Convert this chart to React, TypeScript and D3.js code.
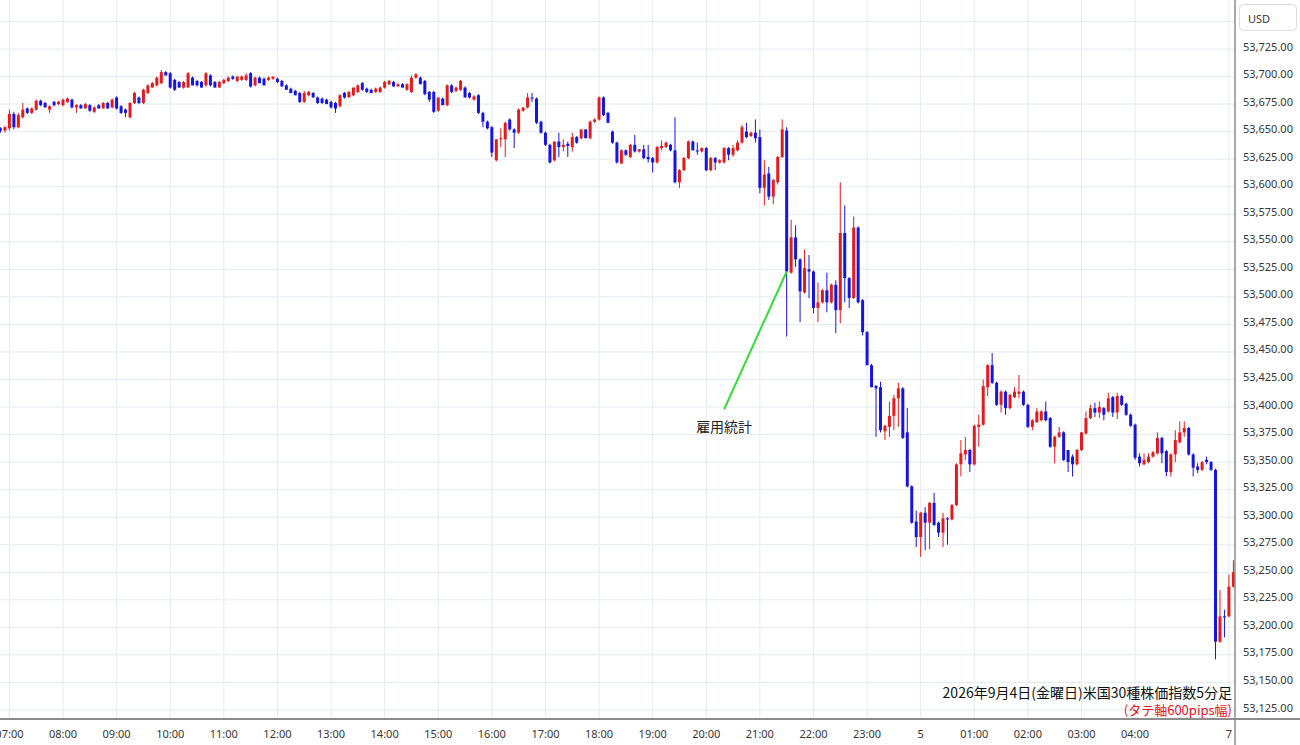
import React from "react";
import * as d3 from "d3";

// slot index of the first candle (0 = 07:00, one slot = 5 minutes)
const firstSlot = -2;

const opens = [
  53653, 53651,
  53653, 53666, 53654, 53663, 53671, 53667, 53670, 53678, 53676, 53670,
  53677, 53675, 53674, 53677, 53679, 53672, 53674, 53671, 53674, 53668,
  53674, 53671, 53676, 53672, 53681, 53673, 53670, 53663, 53676, 53681,
  53676, 53685, 53690, 53692, 53694, 53704, 53703, 53697, 53695, 53690,
  53690, 53699, 53696, 53695, 53692, 53701, 53695, 53690, 53694, 53696,
  53700, 53696, 53697, 53697,
  53703, 53692, 53699, 53698, 53697, 53698, 53698, 53696, 53692, 53689,
  53687, 53685, 53677, 53683, 53685, 53681, 53680, 53679, 53677, 53676,
  53673, 53685, 53681, 53683, 53686, 53694, 53689, 53688, 53686, 53686,
  53690, 53693, 53695, 53691, 53693, 53688, 53686, 53699, 53699, 53696,
  53686, 53686, 53669, 53680, 53674, 53692, 53687, 53688, 53690, 53685,
  53679, 53683, 53667, 53659, 53654, 53624,
  53643, 53643, 53661, 53652, 53649, 53669, 53672, 53681, 53680, 53659,
  53649, 53638, 53624, 53641, 53636, 53639, 53636, 53645, 53644, 53652,
  53644, 53659, 53661, 53681, 53667, 53650, 53640, 53621, 53633, 53627,
  53638, 53632, 53634, 53627, 53626, 53622, 53635, 53636, 53638, 53633,
  53604, 53615, 53626, 53641, 53633, 53632, 53635, 53615, 53626, 53622,
  53622, 53635, 53629, 53633, 53640, 53650, 53646, 53649, 53645, 53599,
  53612, 53591, 53604, 53627, 53651, 53522, 53554, 53534, 53504, 53525,
  53523, 53490, 53495, 53506, 53495, 53511, 53488, 53558, 53517, 53499,
  53563, 53497, 53468, 53438, 53419, 53418, 53378, 53382, 53392, 53408,
  53417, 53377, 53328, 53296, 53282, 53304, 53295, 53313, 53295, 53286,
  53299, 53298, 53311, 53348, 53357, 53361, 53348, 53382, 53384, 53418,
  53438, 53422, 53402, 53414, 53399, 53409, 53412, 53414, 53402, 53382,
  53386, 53388, 53396, 53390, 53364, 53373, 53377, 53361, 53355, 53348,
  53361, 53376, 53390, 53399, 53395, 53399, 53396, 53409, 53395, 53410,
  53403, 53393, 53384, 53355, 53348, 53350, 53355, 53358, 53372, 53360,
  53341, 53357, 53368, 53377, 53381, 53357, 53346, 53343, 53352, 53350,
  53343, 53187, 53210, 53210, 53237,
];

const highs = [
  53654, 53655,
  53670, 53668, 53667, 53676, 53672, 53672, 53679, 53679, 53677, 53674,
  53678, 53678, 53680, 53681, 53680, 53675, 53675, 53676, 53675, 53673,
  53675, 53677, 53677, 53680, 53682, 53674, 53671, 53677, 53686, 53682,
  53689, 53693, 53695, 53700, 53706, 53705, 53704, 53698, 53696, 53696,
  53704, 53700, 53697, 53696, 53704, 53702, 53696, 53696, 53698, 53700,
  53701, 53700, 53701, 53703,
  53704, 53700, 53700, 53699, 53700, 53700, 53699, 53697, 53693, 53690,
  53688, 53686, 53687, 53687, 53686, 53682, 53681, 53680, 53678, 53677,
  53684, 53686, 53687, 53690, 53693, 53695, 53690, 53689, 53690, 53691,
  53696, 53697, 53696, 53694, 53694, 53694, 53701, 53703, 53700, 53697,
  53687, 53687, 53681, 53681, 53693, 53693, 53691, 53697, 53691, 53686,
  53683, 53684, 53668, 53660, 53655, 53643,
  53653, 53659, 53662, 53653, 53671, 53672, 53685, 53685, 53681, 53660,
  53650, 53639, 53641, 53649, 53643, 53641, 53649, 53646, 53652, 53652,
  53660, 53662, 53682, 53682, 53668, 53651, 53641, 53634, 53634, 53639,
  53647, 53634, 53638, 53638, 53627, 53637, 53642, 53641, 53639, 53663,
  53616, 53627, 53642, 53642, 53640, 53636, 53636, 53627, 53627, 53625,
  53636, 53636, 53638, 53642, 53656, 53658, 53650, 53661, 53652, 53624,
  53618, 53607, 53628, 53661, 53654, 53570, 53565, 53535, 53543, 53538,
  53524, 53513, 53507, 53522, 53512, 53515, 53604, 53583, 53518, 53573,
  53564, 53498, 53469, 53439, 53420, 53423, 53384, 53405, 53411, 53422,
  53418, 53399, 53329, 53306, 53305, 53309, 53314, 53322, 53296, 53304,
  53300, 53312, 53349, 53370, 53373, 53362, 53384, 53393, 53425, 53439,
  53449, 53423, 53415, 53415, 53412, 53418, 53429, 53415, 53403, 53389,
  53399, 53397, 53405, 53391, 53374, 53382, 53378, 53361, 53357, 53362,
  53377, 53396, 53402, 53404, 53405, 53400, 53413, 53410, 53413, 53411,
  53404, 53394, 53385, 53358, 53358, 53358, 53360, 53377, 53373, 53361,
  53358, 53379, 53387, 53387, 53382, 53358, 53349, 53351, 53355, 53351,
  53344, 53234, 53216, 53248, 53261,
];

const lows = [
  53649, 53649,
  53651, 53652, 53653, 53662, 53666, 53666, 53669, 53673, 53672, 53667,
  53673, 53674, 53673, 53676, 53671, 53667, 53671, 53671, 53668, 53667,
  53671, 53671, 53671, 53671, 53670, 53666, 53663, 53662, 53675, 53675,
  53675, 53684, 53690, 53691, 53693, 53701, 53689, 53687, 53690, 53689,
  53690, 53692, 53691, 53690, 53691, 53691, 53690, 53690, 53693, 53695,
  53697, 53695, 53696, 53696,
  53690, 53691, 53694, 53692, 53696, 53697, 53694, 53691, 53688, 53685,
  53683, 53676, 53676, 53682, 53681, 53675, 53675, 53675, 53671, 53667,
  53672, 53680, 53681, 53682, 53685, 53687, 53685, 53685, 53685, 53685,
  53689, 53692, 53691, 53691, 53690, 53687, 53685, 53698, 53693, 53683,
  53677, 53667, 53668, 53674, 53673, 53685, 53686, 53687, 53681, 53680,
  53678, 53666, 53654, 53652, 53627, 53623,
  53636, 53627, 53651, 53635, 53648, 53668, 53671, 53677, 53657, 53648,
  53637, 53621, 53623, 53627, 53632, 53627, 53632, 53639, 53643, 53644,
  53643, 53658, 53660, 53664, 53658, 53639, 53621, 53621, 53628, 53626,
  53631, 53631, 53625, 53622, 53613, 53621, 53633, 53635, 53632, 53603,
  53599, 53614, 53625, 53633, 53629, 53631, 53614, 53614, 53615, 53621,
  53621, 53624, 53627, 53632, 53639, 53644, 53645, 53640, 53594, 53583,
  53588, 53584, 53602, 53626, 53464, 53521, 53527, 53477, 53503, 53499,
  53485, 53477, 53494, 53486, 53494, 53467, 53476, 53495, 53490, 53498,
  53494, 53465, 53438, 53418, 53373, 53377, 53370, 53373, 53379, 53382,
  53371, 53327, 53294, 53273, 53264, 53270, 53271, 53292, 53282, 53273,
  53275, 53297, 53310, 53337, 53352, 53341, 53347, 53364, 53383, 53410,
  53421, 53401, 53395, 53393, 53398, 53408, 53408, 53401, 53381, 53379,
  53386, 53387, 53387, 53363, 53349, 53372, 53351, 53341, 53337, 53347,
  53360, 53375, 53389, 53391, 53390, 53388, 53395, 53391, 53389, 53401,
  53392, 53382, 53352, 53346, 53347, 53349, 53354, 53357, 53349, 53337,
  53337, 53350, 53367, 53373, 53356, 53337, 53340, 53342, 53348, 53342,
  53171, 53186, 53191, 53209, 53236,
];

const closes = [
  53651, 53654,
  53666, 53654, 53665, 53670, 53667, 53671, 53678, 53674, 53672, 53673,
  53674, 53677, 53679, 53680, 53672, 53674, 53671, 53675, 53669, 53672,
  53671, 53676, 53671, 53679, 53671, 53667, 53667, 53676, 53685, 53676,
  53688, 53692, 53694, 53699, 53704, 53701, 53690, 53688, 53690, 53695,
  53703, 53692, 53692, 53690, 53703, 53692, 53690, 53695, 53697, 53699,
  53698, 53700, 53700, 53701,
  53691, 53699, 53694, 53692, 53699, 53700, 53695, 53691, 53688, 53685,
  53683, 53677, 53685, 53686, 53681, 53676, 53676, 53675, 53672, 53671,
  53683, 53681, 53686, 53690, 53692, 53688, 53686, 53685, 53689, 53690,
  53695, 53696, 53691, 53693, 53690, 53693, 53699, 53702, 53693, 53684,
  53679, 53668, 53681, 53674, 53692, 53686, 53690, 53696, 53681, 53681,
  53682, 53667, 53659, 53653, 53631, 53643,
  53644, 53658, 53652, 53649, 53670, 53672, 53681, 53680, 53658, 53649,
  53638, 53622, 53641, 53636, 53638, 53637, 53645, 53640, 53652, 53644,
  53659, 53661, 53681, 53665, 53658, 53640, 53622, 53633, 53629, 53638,
  53632, 53634, 53626, 53625, 53622, 53636, 53637, 53640, 53633, 53604,
  53615, 53626, 53641, 53633, 53632, 53635, 53615, 53626, 53622, 53624,
  53635, 53629, 53635, 53640, 53654, 53645, 53649, 53644, 53599, 53611,
  53591, 53606, 53627, 53652, 53523, 53554, 53534, 53505, 53526, 53523,
  53490, 53495, 53506, 53495, 53511, 53488, 53558, 53517, 53499, 53563,
  53495, 53468, 53438, 53418, 53417, 53379, 53383, 53392, 53408, 53417,
  53372, 53328, 53295, 53282, 53304, 53295, 53313, 53293, 53286, 53299,
  53298, 53311, 53348, 53358, 53361, 53348, 53383, 53384, 53419, 53438,
  53422, 53402, 53414, 53399, 53411, 53414, 53414, 53402, 53382, 53388,
  53396, 53396, 53388, 53364, 53373, 53377, 53352, 53350, 53348, 53361,
  53377, 53390, 53399, 53395, 53400, 53393, 53408, 53395, 53410, 53402,
  53393, 53383, 53354, 53349, 53352, 53355, 53359, 53372, 53358, 53341,
  53357, 53370, 53377, 53381, 53357, 53345, 53343, 53350, 53350, 53343,
  53187, 53210, 53209, 53237, 53250,
];

const xTickSlots = [0, 12, 24, 36, 48, 60, 72, 84, 96, 108, 120, 132, 144, 156, 168, 180, 192, 204, 216, 228, 240, 252, 273];
const xTickLabels = ["07:00", "08:00", "09:00", "10:00", "11:00", "12:00", "13:00", "14:00", "15:00", "16:00", "17:00", "18:00", "19:00", "20:00", "21:00", "22:00", "23:00", "5", "01:00", "02:00", "03:00", "04:00", "7"];

const yTickValues = [53125, 53150, 53175, 53200, 53225, 53250, 53275, 53300, 53325, 53350, 53375, 53400, 53425, 53450, 53475, 53500, 53525, 53550, 53575, 53600, 53625, 53650, 53675, 53700, 53725];
const yGridExtra = [53750];

const annotationSlot = 174;
const annotationPrice = 53523;
const annotationEndSlot = 160;
const annotationEndPrice = 53398;
const annotationLabelPrice = 53383;
const annotationText = "雇用統計";

const titleLine1 = "2026年9月4日(金曜日)米国30種株価指数5分足";
const titleLine2 = "(タテ軸600pips幅)";
const currencyLabel = "USD";

const W = 1300;
const H = 745;
const PLOT_RIGHT = 1235;
const AXIS_Y = 719;
const UP = "#e51b1b";
const DOWN = "#1515e3";
const GRID = "#e4ebf2";
const AXIS = "#8c8c8c";
const LABEL = "#363636";

export default function App() {
  const x = d3.scaleLinear().domain([0, 252]).range([9.4, 1135.1]);
  const y = d3.scaleLinear().domain([53125, 53725]).range([710, 49]);
  const fmt = d3.format(",.2f");

  const candles = closes.map((c, i) => ({
    slot: firstSlot + i,
    o: opens[i],
    h: highs[i],
    l: lows[i],
    c,
  }));

  const bodyW = 3;

  return (
    <svg
      width={W}
      height={H}
      style={{ position: "absolute", left: 0, top: 0, background: "#fff" }}
      fontFamily="'Noto Sans', 'Noto Sans CJK JP', sans-serif"
    >
      <defs>
        <clipPath id="plotClip">
          <rect x={0} y={0} width={PLOT_RIGHT} height={AXIS_Y} />
        </clipPath>
      </defs>
      <rect x={0} y={0} width={W} height={H} fill="#fff" />

      {/* grid */}
      <g stroke={GRID} strokeWidth={1}>
        {[...yTickValues, ...yGridExtra].map((v) => (
          <line key={"gy" + v} x1={0} x2={PLOT_RIGHT} y1={y(v)} y2={y(v)} />
        ))}
        {xTickSlots.map((s) => (
          <line key={"gx" + s} x1={x(s)} x2={x(s)} y1={0} y2={AXIS_Y} />
        ))}
      </g>

      {/* candles */}
      <g clipPath="url(#plotClip)">
        {candles.map((d) => {
          const up = d.c >= d.o;
          const col = up ? UP : DOWN;
          const cx = x(d.slot);
          const top = y(Math.max(d.o, d.c));
          const bot = y(Math.min(d.o, d.c));
          return (
            <g key={d.slot}>
              <line x1={cx} x2={cx} y1={y(d.h)} y2={y(d.l)} stroke={col} strokeWidth={1} />
              <rect x={cx - bodyW / 2} y={top} width={bodyW} height={Math.max(1, bot - top)} fill={col} />
            </g>
          );
        })}
      </g>

      {/* annotation */}
      <line
        x1={x(annotationSlot)}
        y1={y(annotationPrice)}
        x2={x(annotationEndSlot)}
        y2={y(annotationEndPrice)}
        stroke="#33dd33"
        strokeWidth={2}
      />
      <text
        x={x(annotationEndSlot)}
        y={y(annotationLabelPrice)}
        textAnchor="middle"
        dominantBaseline="central"
        fontSize={14}
        fontFamily="'Noto Sans CJK JP', sans-serif"
        fill="#222"
      >
        {annotationText}
      </text>

      {/* title text */}
      <text
        x={1232}
        y={692}
        textAnchor="end"
        dominantBaseline="central"
        fontSize={14}
        fontFamily="'Noto Sans CJK JP', sans-serif"
        fill="#111"
      >
        {titleLine1}
      </text>
      <text
        x={1232}
        y={709}
        textAnchor="end"
        dominantBaseline="central"
        fontSize={13}
        fontFamily="'Noto Sans CJK JP', sans-serif"
        fill="#e8141c"
      >
        {titleLine2}
      </text>

      {/* axes */}
      <line x1={0} x2={W} y1={AXIS_Y} y2={AXIS_Y} stroke={AXIS} strokeWidth={2} />
      <line x1={PLOT_RIGHT} x2={PLOT_RIGHT} y1={0} y2={H} stroke={AXIS} strokeWidth={1.5} />

      {/* y labels */}
      <g fontSize={11} fill={LABEL}>
        {yTickValues.map((v) => (
          <text key={"yl" + v} x={1243} y={y(v) - 3} dominantBaseline="central">
            {fmt(v)}
          </text>
        ))}
      </g>

      {/* x labels */}
      <g fontSize={11} fill={LABEL}>
        {xTickSlots.map((s, i) => (
          <text key={"xl" + s} x={x(s)} y={733} textAnchor="middle" dominantBaseline="central">
            {xTickLabels[i]}
          </text>
        ))}
      </g>

      {/* currency box */}
      <rect x={1239.5} y={4.5} width={57} height={26} rx={4} fill="#fff" stroke="#dcdcdc" />
      <text x={1248} y={18} fontSize={11} fill={LABEL} dominantBaseline="central">
        {currencyLabel}
      </text>
    </svg>
  );
}
